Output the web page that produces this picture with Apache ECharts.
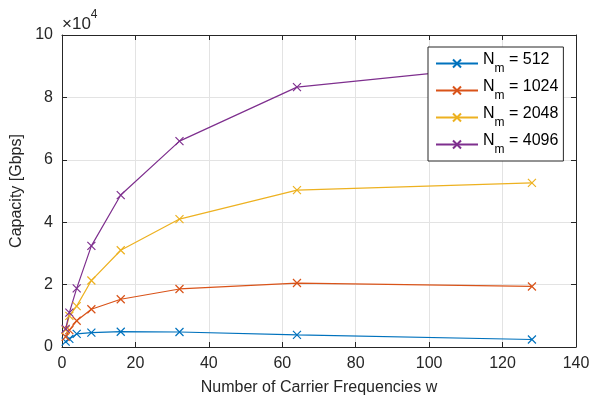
<!DOCTYPE html>
<html>
<head>
<meta charset="utf-8">
<script src="https://cdn.jsdelivr.net/npm/echarts@6/dist/echarts.min.js"></script>
<style>
  html, body { margin: 0; padding: 0; background: #fff; }
  #main { width: 592px; height: 396px; }
</style>
</head>
<body>
<div id="main"></div>
<script>
// carrier frequencies w
var carriers = [1, 2, 4, 8, 16, 32, 64, 128];
// capacity in Gbps (x1e4)
var nm512  = [1700, 2600, 4200, 4600, 4900, 4800, 3900, 2400];
var nm1024 = [3300, 5400, 8400, 12100, 15300, 18600, 20500, 19400];
var nm2048 = [5500, 10000, 13100, 21300, 31000, 41000, 50300, 52600];
var nm4096 = [5800, 11000, 18800, 32400, 48700, 66000, 83300, 91000];
var nmNames = ['512', '1024', '2048', '4096'];
var colors = ['#0072BD', '#D95319', '#EDB120', '#7E2F8E'];

var chart = echarts.init(document.getElementById('main'));
var FONT = 'Liberation Sans';
var cross = 'path://M0,0L10,10M0,10L10,0';

function pairs(ys) {
  var out = [];
  for (var i = 0; i < carriers.length; i++) out.push([carriers[i], ys[i]]);
  return out;
}

var allData = [nm512, nm1024, nm2048, nm4096];
var series = [];
for (var k = 0; k < allData.length; k++) {
  series.push({
    name: nmNames[k],
    type: 'line',
    data: pairs(allData[k]),
    symbol: cross,
    symbolSize: 8,
    showAllSymbol: true,
    lineStyle: { color: colors[k], width: 1.2 },
    itemStyle: { color: colors[k], borderColor: colors[k], borderWidth: 1.2 },
    emphasis: { disabled: true },
    z: 3
  });
}

var axisCommon = {
  axisLine: { show: true, onZero: false, lineStyle: { color: '#262626', width: 1 } },
  axisTick: { show: true, inside: true, length: 5, lineStyle: { color: '#262626' } }
};

var option = {
  animation: false,
  textStyle: { fontFamily: FONT },
  grid: { left: 62, right: 16, top: 35, bottom: 49, containLabel: false, outerBoundsMode: 'none' },
  legend: {
    orient: 'vertical',
    left: 428,
    top: 47,
    padding: [5, 5, 5, 7],
    itemGap: 4,
    itemWidth: 42,
    itemHeight: 10,
    backgroundColor: '#fff',
    borderColor: '#262626',
    borderWidth: 1,
    borderRadius: 0,
    data: nmNames,
    formatter: function (n) { return '{n|N}{s|m}{n| = ' + n + '}'; },
    textStyle: {
      fontFamily: FONT,
      color: '#000',
      rich: {
        n: { fontSize: 16, fontFamily: FONT, color: '#000', lineHeight: 23, verticalAlign: 'top' },
        s: { fontSize: 12, fontFamily: FONT, color: '#000', lineHeight: 23, verticalAlign: 'bottom', padding: [10, 0, 0, 0] }
      }
    }
  },
  xAxis: [
    Object.assign({
      type: 'value',
      min: 0, max: 140, interval: 20,
      name: 'Number of Carrier Frequencies w',
      nameLocation: 'middle',
      nameGap: 33,
      nameTextStyle: { fontSize: 16, color: '#262626', fontFamily: FONT },
      axisLabel: { fontSize: 16, color: '#262626', margin: 9, fontFamily: FONT },
      splitLine: { show: true, lineStyle: { color: '#e3e3e3', width: 1 } }
    }, axisCommon),
    Object.assign({
      type: 'value', position: 'top',
      min: 0, max: 140, interval: 20,
      axisLabel: { show: false },
      splitLine: { show: false }
    }, axisCommon)
  ],
  yAxis: [
    Object.assign({
      type: 'value',
      min: 0, max: 100000, interval: 20000,
      name: 'Capacity [Gbps]',
      nameLocation: 'middle',
      nameGap: 36,
      nameTextStyle: { fontSize: 16, color: '#262626', fontFamily: FONT },
      axisLabel: {
        fontSize: 16, color: '#262626', margin: 9, fontFamily: FONT,
        formatter: function (v) { return String(v / 10000); }
      },
      splitLine: { show: true, lineStyle: { color: '#e3e3e3', width: 1 } }
    }, axisCommon),
    Object.assign({
      type: 'value', position: 'right',
      min: 0, max: 100000, interval: 20000,
      axisLabel: { show: false },
      splitLine: { show: false }
    }, axisCommon)
  ],
  graphic: [{
    type: 'text',
    left: 62,
    top: 9,
    style: {
      text: '{a|×10}{b|4}',
      rich: {
        a: { fontSize: 17, fontFamily: FONT, fill: '#262626', lineHeight: 24, verticalAlign: 'bottom', padding: [7, 0, 0, 0] },
        b: { fontSize: 12, fontFamily: FONT, fill: '#262626', lineHeight: 24, verticalAlign: 'top' }
      }
    }
  }],
  series: series
};

chart.setOption(option);
</script>
</body>
</html>
